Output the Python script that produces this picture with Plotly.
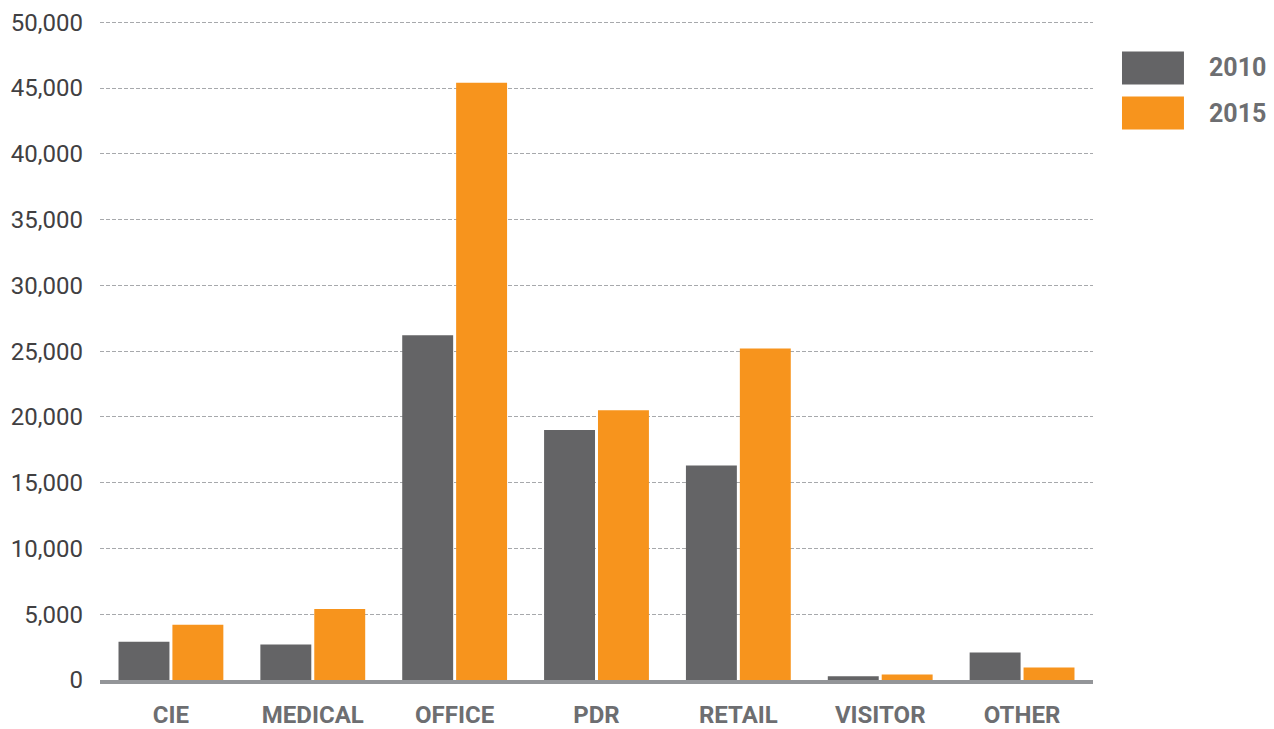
import plotly.graph_objects as go

categories = ["CIE", "MEDICAL", "OFFICE", "PDR", "RETAIL", "VISITOR", "OTHER"]
values_2010 = [2900, 2700, 26200, 19000, 16300, 280, 2100]
values_2015 = [4200, 5400, 45400, 20500, 25200, 420, 950]
series_names = ["2010", "2015"]
series_colors = ["#646466", "#F7941D"]
y_ticks = [0, 5000, 10000, 15000, 20000, 25000, 30000, 35000, 40000, 45000, 50000]

fig = go.Figure()
for name, vals, col in zip(series_names, [values_2010, values_2015], series_colors):
    fig.add_trace(go.Bar(x=categories, y=vals, name=name, marker=dict(color=col, line=dict(width=0)),
                         showlegend=False))

fig.update_layout(
    width=1274, height=729,
    margin=dict(l=100, r=181, t=17, b=49, pad=0),
    paper_bgcolor="white", plot_bgcolor="white",
    barmode="group", bargap=0.24, bargroupgap=0.055,
    font=dict(family="Roboto", color="#414042"),
)
fig.update_yaxes(
    range=[0, 50400], tickvals=y_ticks,
    ticktext=[f"{v:,}" for v in y_ticks],
    showgrid=True, gridcolor="#A7A9AC", griddash="4px,2px", gridwidth=1,
    zeroline=False, showline=False, automargin=False,
    tickfont=dict(family="Roboto", size=24, color="#414042"),
    ticklabelstandoff=16,
)
fig.update_xaxes(
    showline=True, linecolor="#939598", linewidth=4,
    showgrid=False, zeroline=False, automargin=False,
    tickfont=dict(family="Roboto", size=24, color="#6D6E71", weight="bold"),
    ticklabelstandoff=10,
)

# custom legend (paper coordinates relative to plot area)
legend_rows = [(0.9481, 0.8983, 0.9232), (0.8801, 0.8303, 0.8552)]
for (y0, y1, yc), name, col in zip(legend_rows, series_names, series_colors):
    fig.add_shape(type="rect", xref="paper", yref="paper", x0=1.0292, x1=1.0916, y0=y1, y1=y0,
                  fillcolor=col, line=dict(width=0))
    fig.add_annotation(xref="paper", yref="paper", x=1.1148, y=yc, text=name, showarrow=False,
                       xanchor="left", yanchor="middle",
                       font=dict(family="Roboto", size=25, color="#6D6E71", weight="bold"))

fig.write_html("out.html", post_script="document.body.style.margin='0';document.body.style.overflow='hidden';",
               config={"displayModeBar": False})
